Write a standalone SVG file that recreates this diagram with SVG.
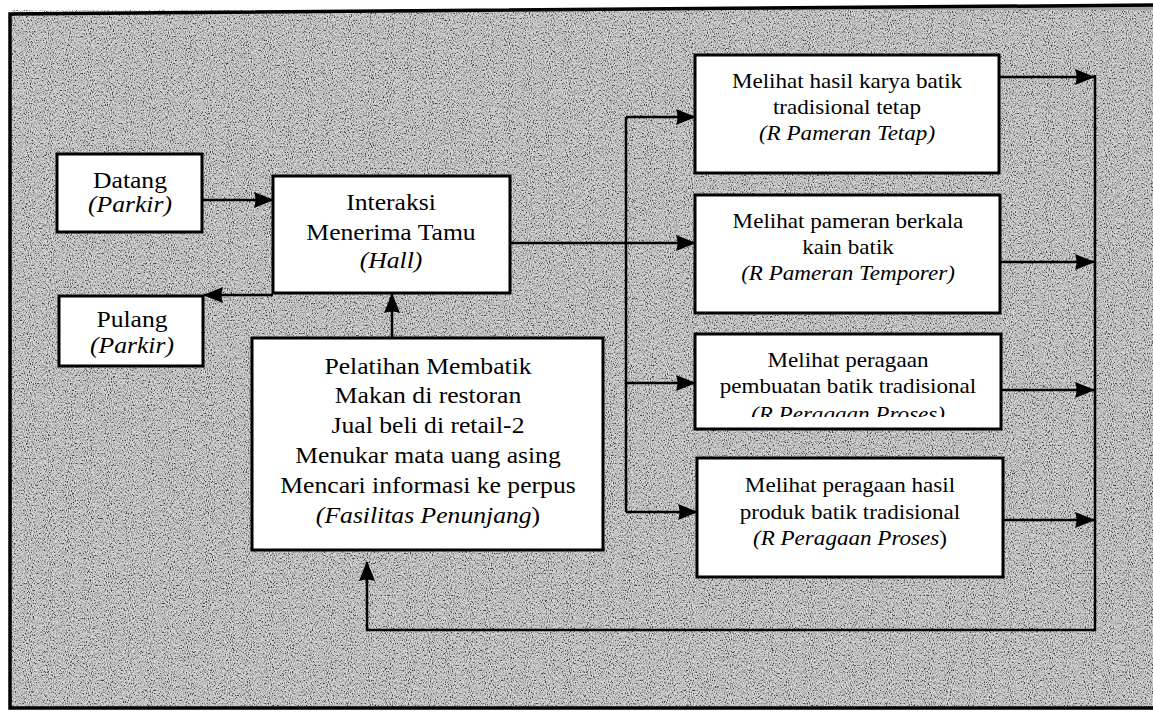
<svg xmlns="http://www.w3.org/2000/svg" width="1153" height="712" viewBox="0 0 1153 712">
  <style>
    .box { fill: #ffffff; stroke: #000000; stroke-width: 3; }
    .t { font-family: 'Liberation Serif', 'DejaVu Serif', serif; font-size: 22.5px; text-anchor: middle; fill: #000000; }
    .r { font-size: 21px; }
    .i { font-style: italic; }
    .n { font-style: normal; }
    .wire { fill: none; stroke: #000000; stroke-width: 2.5; }
  </style>
  <defs>
    <marker id="ah" markerWidth="20" markerHeight="18" refX="19" refY="9" orient="auto" markerUnits="userSpaceOnUse">
      <path d="M0,1 L20,9 L0,17 Q3,9 0,1 z" fill="#000000"/>
    </marker>
    <filter id="grain" x="0" y="0" width="100%" height="100%">
      <feTurbulence type="fractalNoise" baseFrequency="0.95 0.6" numOctaves="2" seed="7" result="noise"/>
      <feColorMatrix in="noise" type="matrix" values="1 0 0 0 0  1 0 0 0 0  1 0 0 0 0  0 0 0 0 1"/>
      <feComponentTransfer>
        <feFuncR type="linear" slope="3" intercept="-0.85"/>
        <feFuncG type="linear" slope="3" intercept="-0.85"/>
        <feFuncB type="linear" slope="3" intercept="-0.85"/>
      </feComponentTransfer>
    </filter>
    <clipPath id="clip3">
      <rect x="695" y="334" width="306" height="83"/>
    </clipPath>
  </defs>

  <!-- page and shaded panel -->
  <rect x="0" y="0" width="1153" height="712" fill="#ffffff"/>
  <g id="panel">
    <polygon points="10,14 1160,5 1160,708 10,708" fill="#a4a4a4"/>
    <rect x="11" y="10" width="1142" height="698" fill="#a4a4a4" filter="url(#grain)" opacity="0.55"/>
    <polyline points="1160,5 10,14 10,708 1160,708" fill="none" stroke="#000000" stroke-width="3.5"/>
  </g>

  <!-- connectors -->
  <g id="connectors">
    <path class="wire" d="M202,200 H273" marker-end="url(#ah)"/>
    <path class="wire" d="M273,295 H204" marker-end="url(#ah)"/>
    <path class="wire" d="M392,338 V294" marker-end="url(#ah)"/>
    <path class="wire" d="M510,243 H695" marker-end="url(#ah)"/>
    <path class="wire" d="M626,117 V512"/>
    <path class="wire" d="M626,117 H695" marker-end="url(#ah)"/>
    <path class="wire" d="M626,383 H695" marker-end="url(#ah)"/>
    <path class="wire" d="M626,512 H697" marker-end="url(#ah)"/>
    <path class="wire" d="M999,77 H1094" marker-end="url(#ah)"/>
    <path class="wire" d="M1001,262 H1094" marker-end="url(#ah)"/>
    <path class="wire" d="M1001,390 H1094" marker-end="url(#ah)"/>
    <path class="wire" d="M1003,520 H1094" marker-end="url(#ah)"/>
    <path class="wire" d="M1095,75 V630 H367 V562" marker-end="url(#ah)"/>
  </g>

  <!-- arrival -->
  <g id="datang">
    <rect class="box" x="57" y="154" width="145" height="78"/>
    <g transform="translate(130 0) scale(1.14 1)">
      <text class="t" x="0" y="188">Datang</text>
      <text class="t i" x="0" y="212">(Parkir)</text>
    </g>
  </g>

  <!-- departure -->
  <g id="pulang">
    <rect class="box" x="59" y="296" width="144" height="70"/>
    <g transform="translate(132 0) scale(1.14 1)">
      <text class="t" x="0" y="327">Pulang</text>
      <text class="t i" x="0" y="353">(Parkir)</text>
    </g>
  </g>

  <!-- reception hall -->
  <g id="hall">
    <rect class="box" x="273" y="176" width="237" height="117"/>
    <g transform="translate(391 0) scale(1.14 1)">
      <text class="t" x="0" y="210">Interaksi</text>
      <text class="t" x="0" y="240">Menerima Tamu</text>
      <text class="t i" x="0" y="268">(Hall)</text>
    </g>
  </g>

  <!-- supporting facilities -->
  <g id="fasilitas">
    <rect class="box" x="252" y="338" width="351" height="212"/>
    <g transform="translate(428 0) scale(1.14 1)">
      <text class="t" x="0" y="374">Pelatihan Membatik</text>
      <text class="t" x="0" y="403">Makan di restoran</text>
      <text class="t" x="0" y="433">Jual beli di retail-2</text>
      <text class="t" x="0" y="463">Menukar mata uang asing</text>
      <text class="t" x="0" y="493">Mencari informasi ke perpus</text>
      <text class="t i" x="0" y="523">(Fasilitas Penunjang<tspan class="n">)</tspan></text>
    </g>
  </g>

  <!-- permanent exhibition -->
  <g id="pameran-tetap">
    <rect class="box" x="695" y="55" width="304" height="118"/>
    <g transform="translate(847 0) scale(1.1 1)">
      <text class="t r" x="0" y="88">Melihat hasil karya batik</text>
      <text class="t r" x="0" y="114">tradisional tetap</text>
      <text class="t r i" x="0" y="140">(R Pameran Tetap)</text>
    </g>
  </g>

  <!-- temporary exhibition -->
  <g id="pameran-temporer">
    <rect class="box" x="695" y="195" width="305" height="118"/>
    <g transform="translate(848 0) scale(1.1 1)">
      <text class="t r" x="0" y="228">Melihat pameran berkala</text>
      <text class="t r" x="0" y="254">kain batik</text>
      <text class="t r i" x="0" y="280">(R Pameran Temporer)</text>
    </g>
  </g>

  <!-- process demonstration -->
  <g id="peragaan-proses">
    <rect class="box" x="695" y="334" width="306" height="95"/>
    <g clip-path="url(#clip3)">
      <g transform="translate(848 0) scale(1.1 1)">
        <text class="t r" x="0" y="367">Melihat peragaan</text>
        <text class="t r" x="0" y="393">pembuatan batik tradisional</text>
        <text class="t r i" x="0" y="421">(R Peragaan Proses)</text>
      </g>
    </g>
  </g>

  <!-- product demonstration -->
  <g id="peragaan-produk">
    <rect class="box" x="697" y="458" width="306" height="119"/>
    <g transform="translate(850 0) scale(1.1 1)">
      <text class="t r" x="0" y="492">Melihat peragaan hasil</text>
      <text class="t r" x="0" y="519">produk batik tradisional</text>
      <text class="t r i" x="0" y="545">(R Peragaan Proses<tspan class="n">)</tspan></text>
    </g>
  </g>
</svg>
